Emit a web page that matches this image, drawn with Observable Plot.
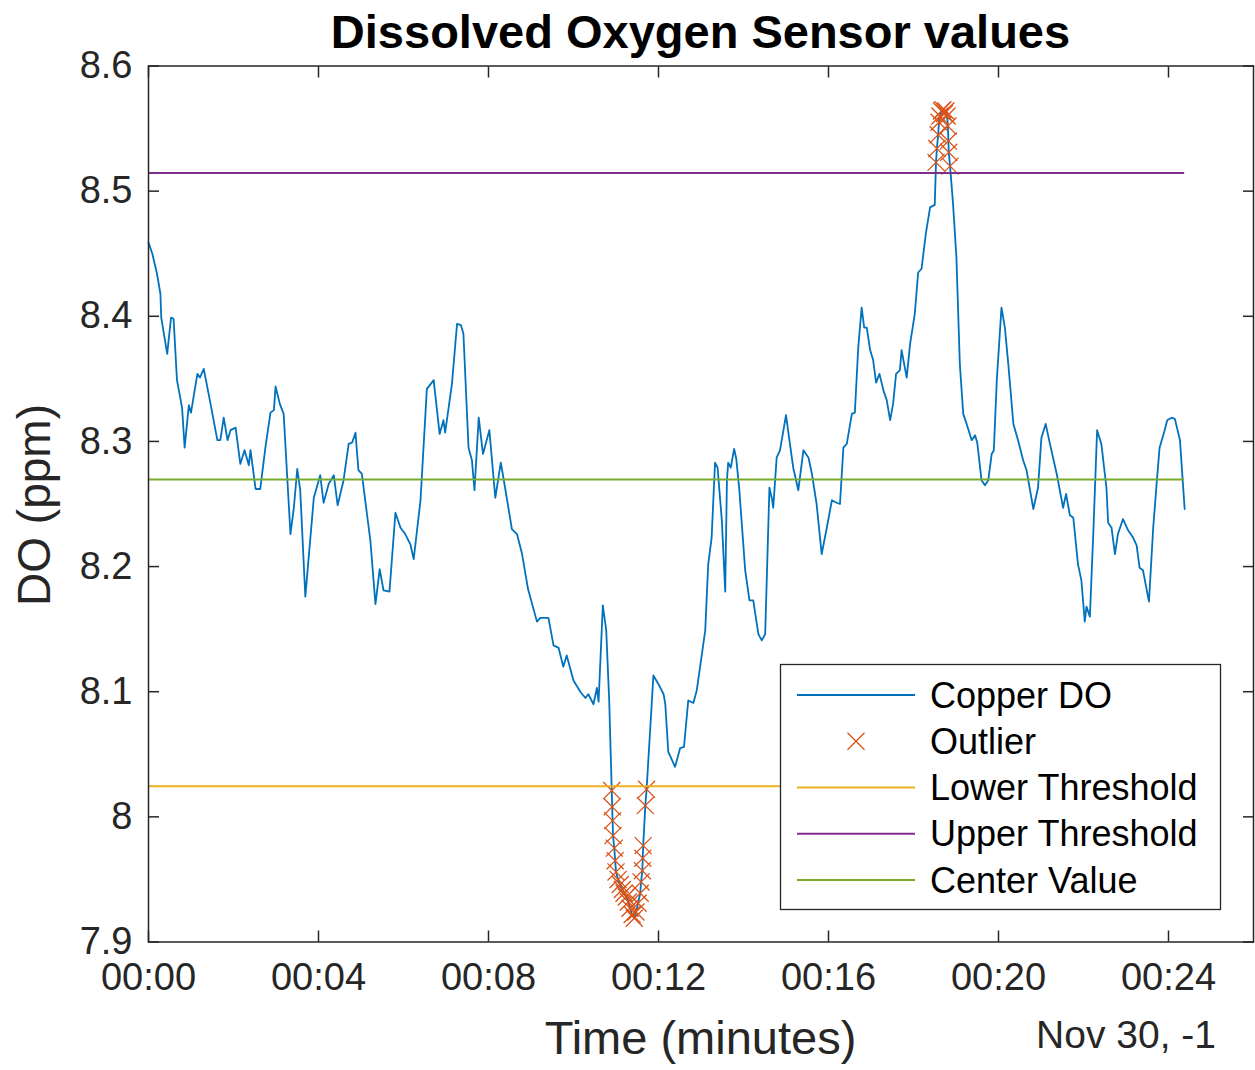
<!DOCTYPE html>
<html>
<head>
<meta charset="utf-8">
<script src="https://cdn.jsdelivr.net/npm/d3@7"></script>
<script src="https://cdn.jsdelivr.net/npm/@observablehq/plot@0.6"></script>
<style>
  html, body { margin: 0; padding: 0; background: #fff; }
  #chart { width: 1255px; height: 1070px; overflow: hidden; }
  #chart svg { display: block; }
</style>
</head>
<body>
<div id="chart"></div>
<script>
// Sensor readings: elapsed time (minutes) and dissolved oxygen (ppm)
const times = [
  0.00, 0.09, 0.20, 0.28, 0.30, 0.44, 0.53, 0.59, 0.67, 0.79,
  0.85, 0.95, 1.00, 1.15, 1.21, 1.30, 1.46, 1.62, 1.69, 1.77,
  1.86, 1.93, 2.05, 2.16, 2.26, 2.36, 2.40, 2.52, 2.63, 2.75,
  2.87, 2.95, 2.99, 3.09, 3.18, 3.34, 3.42, 3.50, 3.57, 3.69,
  3.89, 4.04, 4.12, 4.24, 4.36, 4.45, 4.59, 4.71, 4.79, 4.87,
  4.94, 5.02, 5.14, 5.22, 5.34, 5.44, 5.53, 5.67, 5.81, 5.93,
  6.04, 6.16, 6.24, 6.40, 6.55, 6.71, 6.85, 6.94, 6.98, 7.14,
  7.26, 7.35, 7.41, 7.53, 7.61, 7.67, 7.77, 7.87, 8.02, 8.16,
  8.29, 8.39, 8.55, 8.67, 8.79, 8.93, 9.14, 9.22, 9.41, 9.53,
  9.65, 9.76, 9.84, 10.00, 10.16, 10.28, 10.35, 10.47, 10.55, 10.59,
  10.69, 10.77, 10.84, 10.90, 10.91, 10.92, 10.93, 10.96, 10.98, 11.00,
  11.05, 11.10, 11.15, 11.19, 11.24, 11.29, 11.33, 11.38, 11.43, 11.47,
  11.52, 11.57, 11.59, 11.62, 11.63, 11.64, 11.69, 11.72, 11.88, 12.00,
  12.12, 12.16, 12.23, 12.39, 12.51, 12.60, 12.70, 12.82, 12.90, 13.10,
  13.17, 13.25, 13.33, 13.39, 13.49, 13.57, 13.61, 13.64, 13.70, 13.78,
  13.83, 13.90, 14.04, 14.14, 14.23, 14.35, 14.43, 14.51, 14.61, 14.67,
  14.70, 14.78, 14.86, 15.00, 15.06, 15.17, 15.29, 15.41, 15.53, 15.61,
  15.72, 15.84, 15.96, 16.08, 16.19, 16.27, 16.35, 16.43, 16.55, 16.62,
  16.70, 16.78, 16.84, 16.90, 16.98, 17.05, 17.12, 17.20, 17.29, 17.37,
  17.45, 17.52, 17.59, 17.68, 17.72, 17.78, 17.84, 17.92, 18.03, 18.11,
  18.19, 18.29, 18.39, 18.50, 18.53, 18.55, 18.58, 18.60, 18.62, 18.66,
  18.69, 18.73, 18.76, 18.79, 18.81, 18.82, 18.83, 18.86, 18.93, 19.01,
  19.09, 19.17, 19.25, 19.37, 19.45, 19.50, 19.60, 19.68, 19.76, 19.84,
  19.89, 19.96, 20.07, 20.15, 20.23, 20.35, 20.46, 20.58, 20.66, 20.70,
  20.82, 20.93, 21.01, 21.11, 21.21, 21.37, 21.52, 21.59, 21.68, 21.76,
  21.87, 21.95, 22.03, 22.07, 22.15, 22.23, 22.32, 22.42, 22.54, 22.58,
  22.66, 22.74, 22.81, 22.93, 23.05, 23.17, 23.25, 23.32, 23.40, 23.54,
  23.64, 23.72, 23.79, 23.91, 23.97, 24.07, 24.15, 24.27, 24.38
];
const values = [
  8.459, 8.450, 8.434, 8.418, 8.399, 8.370, 8.399, 8.398, 8.349, 8.327,
  8.295, 8.329, 8.323, 8.354, 8.351, 8.358, 8.330, 8.301, 8.301, 8.319,
  8.301, 8.309, 8.311, 8.282, 8.293, 8.281, 8.293, 8.262, 8.262, 8.295,
  8.323, 8.325, 8.344, 8.330, 8.322, 8.226, 8.247, 8.278, 8.261, 8.176,
  8.255, 8.273, 8.251, 8.266, 8.273, 8.249, 8.269, 8.298, 8.299, 8.307,
  8.277, 8.274, 8.242, 8.221, 8.170, 8.198, 8.181, 8.180, 8.243, 8.231,
  8.226, 8.218, 8.206, 8.253, 8.342, 8.349, 8.306, 8.317, 8.307, 8.346,
  8.394, 8.393, 8.386, 8.295, 8.285, 8.261, 8.319, 8.290, 8.309, 8.255,
  8.283, 8.263, 8.230, 8.226, 8.210, 8.182, 8.156, 8.159, 8.159, 8.137,
  8.135, 8.120, 8.129, 8.109, 8.100, 8.095, 8.098, 8.090, 8.103, 8.092,
  8.169, 8.149, 8.093, 8.021, 8.008, 7.997, 7.985, 7.975, 7.965, 7.956,
  7.950, 7.946, 7.942, 7.939, 7.936, 7.932, 7.927, 7.922, 7.919, 7.924,
  7.931, 7.939, 7.948, 7.957, 7.967, 7.977, 8.009, 8.022, 8.113, 8.106,
  8.098, 8.090, 8.052, 8.040, 8.055, 8.056, 8.093, 8.091, 8.101, 8.149,
  8.202, 8.223, 8.283, 8.279, 8.237, 8.180, 8.269, 8.283, 8.279, 8.294,
  8.286, 8.262, 8.197, 8.173, 8.173, 8.146, 8.141, 8.146, 8.263, 8.254,
  8.247, 8.287, 8.293, 8.321, 8.306, 8.279, 8.261, 8.293, 8.287, 8.274,
  8.250, 8.210, 8.231, 8.253, 8.251, 8.250, 8.295, 8.298, 8.322, 8.323,
  8.375, 8.407, 8.391, 8.391, 8.373, 8.365, 8.347, 8.354, 8.341, 8.333,
  8.317, 8.330, 8.354, 8.357, 8.373, 8.362, 8.351, 8.378, 8.402, 8.435,
  8.438, 8.466, 8.487, 8.489, 8.523, 8.534, 8.545, 8.555, 8.560, 8.564,
  8.565, 8.562, 8.564, 8.560, 8.552, 8.540, 8.531, 8.520, 8.490, 8.447,
  8.362, 8.322, 8.314, 8.301, 8.305, 8.299, 8.269, 8.265, 8.269, 8.290,
  8.293, 8.349, 8.407, 8.391, 8.362, 8.314, 8.301, 8.285, 8.277, 8.269,
  8.246, 8.263, 8.303, 8.314, 8.298, 8.274, 8.247, 8.258, 8.241, 8.239,
  8.202, 8.189, 8.156, 8.168, 8.160, 8.226, 8.309, 8.298, 8.263, 8.235,
  8.231, 8.210, 8.226, 8.238, 8.229, 8.223, 8.217, 8.199, 8.197, 8.172,
  8.231, 8.266, 8.295, 8.309, 8.317, 8.319, 8.318, 8.301, 8.246
];

// Control levels (ppm)
const centerValue = 8.2695;
const lowerThreshold = 8.0245;
const upperThreshold = 8.5145;

// Axis ticks
const xTicks = [0, 4, 8, 12, 16, 20, 24];
const yTicks = [7.9, 8.0, 8.1, 8.2, 8.3, 8.4, 8.5, 8.6];

const seriesNames = ["Copper DO", "Outlier", "Lower Threshold", "Upper Threshold", "Center Value"];
const seriesColors = ["#0072BD", "#D95319", "#EDB120", "#7E2F8E", "#77AC30"];

const chartTitle = "Dissolved Oxygen Sensor values";
const xLabel = "Time (minutes)";
const yLabel = "DO (ppm)";
const dateLabel = "Nov 30, -1";

// ---- derived tables ----
const readings = times.map((t, i) => ({t, v: values[i]}));
const outliers = readings.filter(d => d.v < lowerThreshold || d.v > upperThreshold);
const tStart = times[0], tEnd = times[times.length - 1];
const level = y => [{y, x1: tStart, x2: tEnd}];

const FONT = "'Liberation Sans', Arial, Helvetica, sans-serif";
const INK = "#262626";
const W = 1255, H = 1070;
const M = {left: 148, right: 2, top: 65.5, bottom: 128.5};

const fmtTime = m => `00:${String(m).padStart(2, "0")}`;
const fmtDO = v => String(+v.toFixed(1));
const blank = () => "";

const plot = Plot.plot({
  width: W,
  height: H,
  marginLeft: M.left,
  marginRight: M.right,
  marginTop: M.top,
  marginBottom: M.bottom,
  style: {fontFamily: FONT, color: INK, background: "#fff", overflow: "visible"},
  x: {type: "linear", domain: [0, 26]},
  y: {type: "linear", domain: [7.9, 8.6]},
  marks: [
    Plot.line(readings, {x: "t", y: "v", stroke: seriesColors[0], strokeWidth: 1.8}),
    Plot.dot(outliers, {x: "t", y: "v", symbol: "times", r: 7.8, stroke: seriesColors[1], strokeWidth: 1.3}),
    Plot.ruleY(level(lowerThreshold), {y: "y", x1: "x1", x2: "x2", stroke: seriesColors[2], strokeWidth: 2}),
    Plot.ruleY(level(upperThreshold), {y: "y", x1: "x1", x2: "x2", stroke: seriesColors[3], strokeWidth: 2}),
    Plot.ruleY(level(centerValue), {y: "y", x1: "x1", x2: "x2", stroke: seriesColors[4], strokeWidth: 2}),
    Plot.frame({stroke: INK, strokeWidth: 1.5}),
    // tick labels
    Plot.axisX({anchor: "bottom", ticks: xTicks, tickSize: 0, tickPadding: 21, tickFormat: fmtTime,
                fontSize: 38, label: null}),
    Plot.axisY({anchor: "left", ticks: yTicks, tickSize: 0, tickPadding: 16, tickFormat: fmtDO,
                fontSize: 38, label: null}),
    // inward tick marks on all four sides
    Plot.axisX({anchor: "bottom", ticks: xTicks, tickSize: -11, tickFormat: blank, label: null, stroke: INK, strokeWidth: 1.5}),
    Plot.axisX({anchor: "top", ticks: xTicks, tickSize: -11, tickFormat: blank, label: null, stroke: INK, strokeWidth: 1.5}),
    Plot.axisY({anchor: "left", ticks: yTicks, tickSize: -11, tickFormat: blank, label: null, stroke: INK, strokeWidth: 1.5}),
    Plot.axisY({anchor: "right", ticks: yTicks, tickSize: -11, tickFormat: blank, label: null, stroke: INK, strokeWidth: 1.5})
  ]
});

const svg = d3.select(plot);
const cx = M.left + (W - M.left - M.right) / 2;

// title
svg.append("text")
  .attr("x", cx).attr("y", 48)
  .attr("text-anchor", "middle")
  .attr("font-family", FONT).attr("font-weight", "bold").attr("font-size", 47)
  .attr("fill", "#000")
  .text(chartTitle);

// axis titles
svg.append("text")
  .attr("x", cx).attr("y", 1054)
  .attr("text-anchor", "middle")
  .attr("font-family", FONT).attr("font-size", 47)
  .attr("fill", INK)
  .text(xLabel);

svg.append("text")
  .attr("transform", "translate(50,505) rotate(-90)")
  .attr("text-anchor", "middle")
  .attr("font-family", FONT).attr("font-size", 46)
  .attr("fill", INK)
  .text(yLabel);

svg.append("text")
  .attr("x", 1216).attr("y", 1048)
  .attr("text-anchor", "end")
  .attr("font-family", FONT).attr("font-size", 39)
  .attr("fill", INK)
  .text(dateLabel);

// legend box
const lg = svg.append("g");
lg.append("rect")
  .attr("x", 780.5).attr("y", 664.5).attr("width", 440).attr("height", 245)
  .attr("fill", "#fff").attr("stroke", INK).attr("stroke-width", 1.3);
seriesNames.forEach((name, i) => {
  const yy = 695 + i * 46.25;
  if (name === "Outlier") {
    const h = 8.5;
    lg.append("path")
      .attr("d", `M${856 - h},${yy - h}L${856 + h},${yy + h}M${856 - h},${yy + h}L${856 + h},${yy - h}`)
      .attr("stroke", seriesColors[i]).attr("stroke-width", 1.3).attr("fill", "none");
  } else {
    lg.append("line")
      .attr("x1", 797).attr("x2", 915).attr("y1", yy).attr("y2", yy)
      .attr("stroke", seriesColors[i]).attr("stroke-width", i === 0 ? 1.8 : 2);
  }
  lg.append("text")
    .attr("x", 930).attr("y", yy + 12.6)
    .attr("text-anchor", "start")
    .attr("font-family", FONT).attr("font-size", 36)
    .attr("fill", "#000")
    .text(name);
});

document.getElementById("chart").append(plot);
</script>
</body>
</html>
